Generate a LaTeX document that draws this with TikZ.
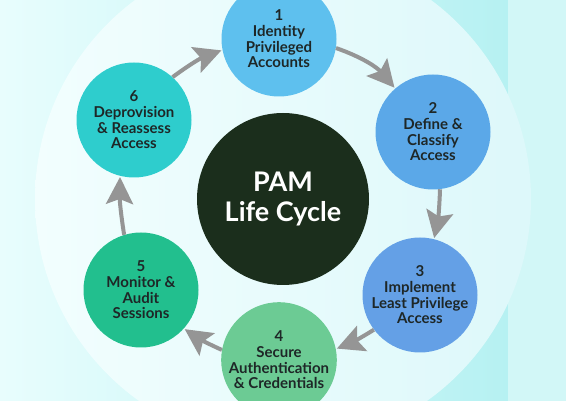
\documentclass[tikz,border=0pt]{standalone}
\usepackage{fontspec}
\setmainfont{Lato}
\usepackage{xcolor}
\usepackage{tikz}
\usetikzlibrary{arrows.meta}

\definecolor{bgleft}{HTML}{E8FDFD}
\definecolor{bgright}{HTML}{B6F1F2}
\definecolor{bgstrip}{HTML}{D2F7F7}
\definecolor{ringleft}{HTML}{F2FEFE}
\definecolor{ringright}{HTML}{DDF8FA}
\definecolor{pamdark}{HTML}{1B2E1C}
\definecolor{identcol}{HTML}{5EC0EE}
\definecolor{definecol}{HTML}{5BA8E8}
\definecolor{implcol}{HTML}{64A0E6}
\definecolor{securecol}{HTML}{6CCB94}
\definecolor{monitorcol}{HTML}{22BF8E}
\definecolor{deprovcol}{HTML}{2ECDCD}
\definecolor{textdark}{HTML}{1E2727}
\definecolor{arrowgray}{HTML}{959595}

\begin{document}
\begin{tikzpicture}[x=1pt, y=-1pt,
    phase/.style={circle, minimum size=115pt, inner sep=0pt, align=center, text=textdark,
      font=\fontsize{15}{15.7}\selectfont\bfseries},
    cyc/.style={draw=arrowgray, line width=4pt, shorten >=1pt,
      -{Stealth[length=27pt, width=27pt, inset=5pt, fill=arrowgray]}}]
      \useasboundingbox (0,0) rectangle (566,401);
      % background
      \shade[left color=bgleft, right color=bgright] (0,0) rectangle (508,401);
      \fill[bgstrip] (508,0) rectangle (566,401);
      \shade[left color=ringleft, right color=ringright] (283,199) circle[radius=248pt];

      \node (pam) [circle, fill=pamdark, minimum size=172pt, inner sep=0pt, align=center,
        text=white, font=\fontsize{27}{30}\selectfont\bfseries] at (283,199) {PAM\\Life Cycle};

      \node (ident) [phase, fill=identcol] at (279,39) {1\\Identity\\Privileged\\Accounts};
      \node (define) [phase, fill=definecol] at (433,132) {2\\Define \&\\Classify\\Access};
      \node (impl) [phase, fill=implcol] at (420,295) {3\\Implement\\Least Privilege\\Access};
      \node (secure) [phase, fill=securecol] at (279,360) {4\\Secure\\Authentication\\\& Credentials};
      \node (monitor) [phase, fill=monitorcol] at (141,290) {5\\Monitor \&\\Audit\\Sessions};
      \node (deprov) [phase, fill=deprovcol] at (134,120) {6\\Deprovision\\\& Reassess\\Access};

      \draw[cyc] (ident.-9) to[bend left=15] (define.131);
      \draw[cyc] (define.-83) to[bend left=5] (impl.76);
      \draw[cyc] (impl.217) to[bend left=5] (secure.11);
      \draw[cyc] (secure.170) to[bend left=5] (monitor.-42);
      \draw[cyc] (monitor.107) to[bend left=5] (deprov.256);
      \draw[cyc] (deprov.48) to[bend left=8] (ident.191);
    \end{tikzpicture}
\end{document}
